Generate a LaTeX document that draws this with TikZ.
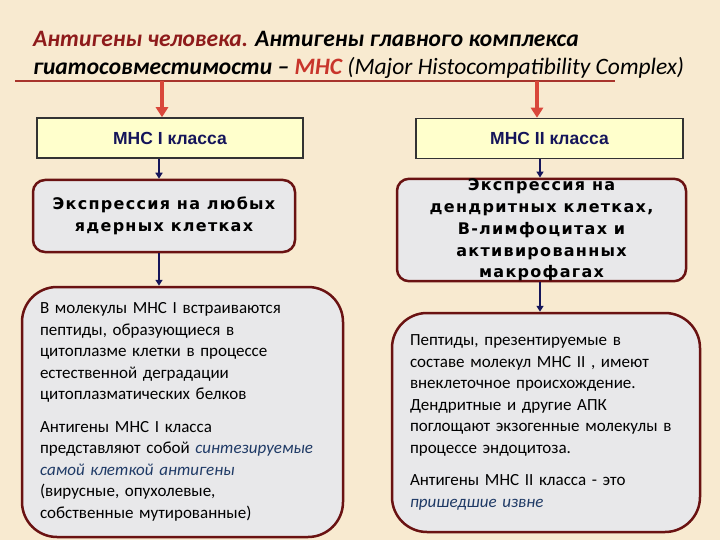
\documentclass[tikz,border=0pt]{standalone}
\usepackage{fontspec}
\setmainfont{Carlito}
\newfontfamily\arialfont{Liberation Sans}
\newfontfamily\spacedfont[LetterSpace=8]{DejaVu Sans}
\usetikzlibrary{arrows.meta,positioning,calc}
\definecolor{PageBeige}{HTML}{F8EAD0}
\definecolor{TitleRed}{HTML}{8E1B1B}
\definecolor{MhcRed}{HTML}{C8352B}
\definecolor{RuleRed}{HTML}{A8342C}
\definecolor{ArrowRed}{HTML}{D9473B}
\definecolor{Navy}{HTML}{15155A}
\definecolor{BoxYellow}{HTML}{FFFFCC}
\definecolor{BoxGray}{HTML}{E8E8EA}
\definecolor{EdgeRed}{HTML}{6A1212}
\definecolor{ItalicBlue}{HTML}{1F3A66}

\begin{document}
\begin{tikzpicture}[x=1pt, y=-1pt,
    classbox/.style={draw=black!80, fill=BoxYellow, line width=1.5pt, minimum width=266pt, minimum height=40pt, font=\arialfont\bfseries\fontsize{17.5}{20}\selectfont, text=Navy},
    exprbox/.style={draw=EdgeRed, fill=BoxGray, line width=2.5pt, rounded corners=12pt, font=\spacedfont\bfseries\fontsize{16}{21.8}\selectfont, align=center},
    textbox/.style={draw=EdgeRed, fill=BoxGray, line width=2.5pt, rounded corners=35pt, font=\fontsize{17}{21.5}\selectfont, align=left, inner xsep=18pt},
    redarr/.style={-{Triangle[length=10pt,width=12pt]}, draw=ArrowRed, line width=4pt},
    navyarr/.style={-{Triangle[length=6pt,width=7pt]}, draw=Navy, line width=2.5pt}
  ]
    \fill[PageBeige] (0,0) rectangle (720,540);

    \node[anchor=base west, align=left, inner sep=0pt, font=\bfseries\itshape\fontsize{23.5}{28}\selectfont] (title) at (33,75)
      {\textcolor{TitleRed}{Антигены человека.} Антигены главного комплекса\\
       гиатосовместимости – \textcolor{MhcRed}{МНС} {\mdseries(Major Histocompatibility Complex)}};
    \coordinate (ruleL) at (15,81);
    \coordinate (ruleR) at (615,81);
    \draw[RuleRed, line width=2pt] (ruleL) -- (ruleR);

    \node[classbox] (mhcI) at (170,138) {МНС I класса};
    \node[classbox, minimum width=267pt] (mhcII) at (549.5,138.5) {МНС II класса};

    \node[exprbox, minimum width=262pt, minimum height=72pt] (exprI) at (164,216) {Экспрессия на любых\\ядерных клетках};
    \node[exprbox, minimum width=289pt, minimum height=100pt, inner ysep=0pt] (exprII) at (541.5,230)
      {Экспрессия на\\дендритных клетках,\\В-лимфоцитах и\\активированных\\макрофагах};

    \node[textbox, text width=285pt, minimum width=321pt, minimum height=250pt] (textI) at (182.5,412)
      {В молекулы МНС I встраиваются\\
       пептиды, образующиеся в\\
       цитоплазме клетки в процессе\\
       естественной деградации\\
       цитоплазматических белков\\[11pt]
       Антигены МНС I класса\\
       представляют собой \textcolor{ItalicBlue}{\itshape синтезируемые}\\
       \textcolor{ItalicBlue}{\itshape самой клеткой антигены}\\
       (вирусные, опухолевые,\\
       собственные мутированные)};
    \node[textbox, text width=272pt, minimum width=308pt, minimum height=219pt] (textII) at (546,422.5)
      {Пептиды, презентируемые в\\
       составе молекул МНС II , имеют\\
       внеклеточное происхождение.\\
       Дендритные и другие АПК\\
       поглощают экзогенные молекулы в\\
       процессе эндоцитоза.\\[11pt]
       Антигены МНС II класса - это\\
       \textcolor{ItalicBlue}{\itshape пришедшие извне}};

    \coordinate (forkI) at (162,81);
    \coordinate (forkII) at (537,81);
    \coordinate (colI) at (159,0);
    \coordinate (colII) at (540,0);

    \draw[redarr] (forkI) -- (forkI |- mhcI.north);
    \draw[redarr] (forkII) -- (forkII |- mhcII.north);
    \draw[navyarr] (mhcI.south -| colI) -- (exprI.north -| colI);
    \draw[navyarr] (mhcII.south -| colII) -- (exprII.north -| colII);
    \draw[navyarr] (exprI.south -| colI) -- (textI.north -| colI);
    \draw[navyarr] (exprII.south -| colII) -- (textII.north -| colII);
  \end{tikzpicture}
\end{document}
